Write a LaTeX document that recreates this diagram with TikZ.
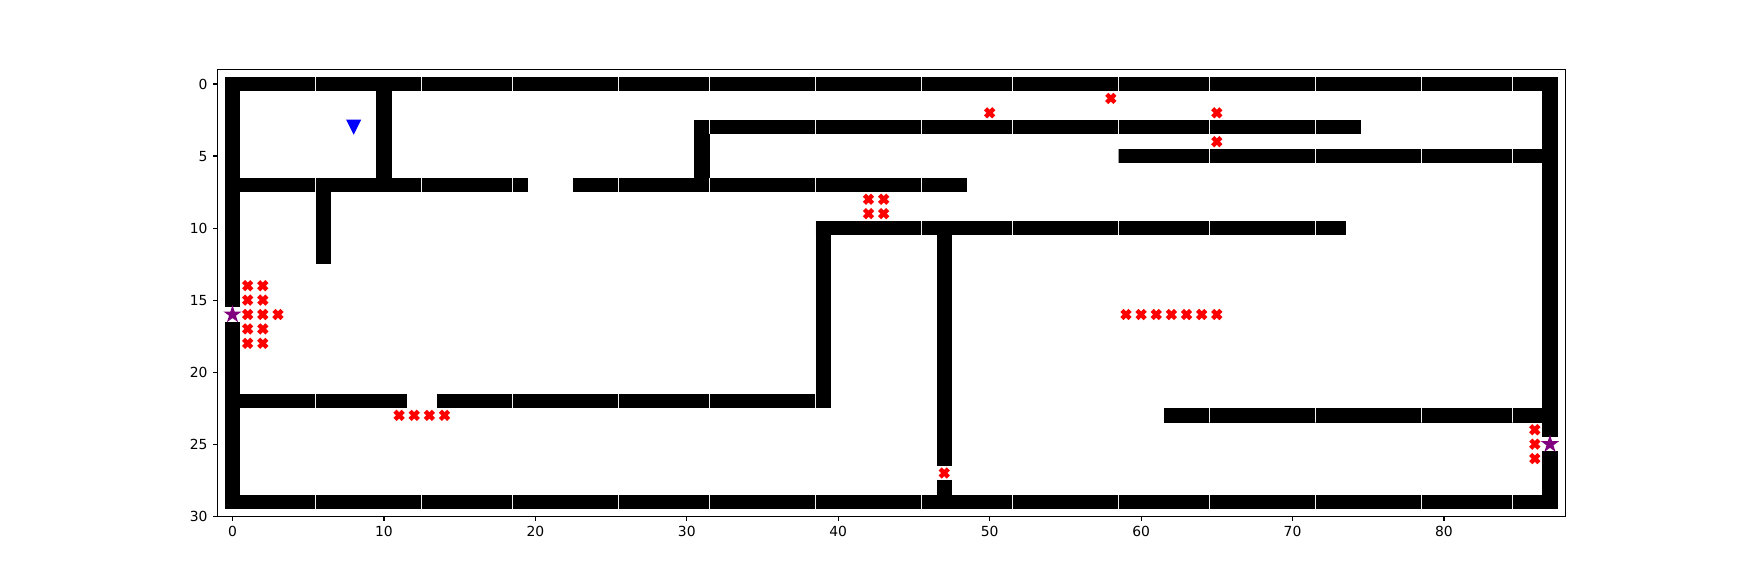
\documentclass[tikz,border=0pt]{standalone}
\usepackage{fontspec}
\setmainfont{DejaVu Sans}
\usetikzlibrary{shapes.geometric}
\definecolor{mplred}{HTML}{FF0000}
\definecolor{mplblue}{HTML}{0000FF}
\definecolor{mplpurple}{HTML}{800080}
% wall segments: x1/y1/x2/y2 in grid cells
\newcommand\hwalllist{0/0/87/0, 0/29/87/29, 0/7/19/7, 23/7/48/7, 31/3/74/3, 59/5/86/5,
  39/10/73/10, 0/22/11/22, 14/22/39/22, 62/23/86/23}
\newcommand\vwalllist{0/0/0/15, 0/17/0/29, 87/0/87/24, 87/26/87/29,
  10/1/10/7, 6/7/6/12, 31/3/31/7, 39/10/39/22, 47/10/47/26, 47/28/47/28}
\begin{document}
\begin{tikzpicture}[x=0.15143cm, y=-0.14406cm,
    wall/.style={fill=black},
    seam/.style={draw=gray!12, line width=0.3pt},
    axisline/.style={line width=0.32pt},
    ticklabel/.style={inner sep=0pt, font=\fontsize{3.95}{4.7}\selectfont},
    goal/.style={star, star points=5, star point ratio=2.618, minimum size=0.19cm, inner sep=0pt, fill=mplpurple},
    obstacle/.pic={\fill[mplred, rotate=45] (-0.058cm,-0.022cm) -- (-0.022cm,-0.022cm) -- (-0.022cm,-0.058cm) -- (0.022cm,-0.058cm) -- (0.022cm,-0.022cm) -- (0.058cm,-0.022cm) -- (0.058cm,0.022cm) -- (0.022cm,0.022cm) -- (0.022cm,0.058cm) -- (-0.022cm,0.058cm) -- (-0.022cm,0.022cm) -- (-0.058cm,0.022cm) -- cycle;},
    agent/.pic={\fill[mplblue] (-0.075cm,0.075cm) -- (0.075cm,0.075cm) -- (0,-0.075cm) -- cycle;}]
	\useasboundingbox[fill=white] (-15.355,-5.831) rectangle (99.484,34.430);
	
	% walls
	\foreach \xa/\ya/\xb/\yb in \hwalllist
		\fill[wall] (\xa-0.5,\ya-0.5) rectangle (\xb+0.5,\yb+0.5);
	\foreach \xa/\ya/\xb/\yb in \vwalllist
		\fill[wall] (\xa-0.5,\ya-0.5) rectangle (\xb+0.5,\yb+0.5);
	
	% light seams across the horizontal walls
	\begin{scope}
		\clip foreach \xa/\ya/\xb/\yb in \hwalllist {(\xa-0.5,\ya-0.5) rectangle (\xb+0.5,\yb+0.5)};
		\foreach \r in {0,3,5,7,10,22,23,29}
			\foreach \s in {5.5,12.5,18.5,25.5,31.5,38.5,45.5,51.5,58.5,64.5,71.5,78.5,84.5}
				\draw[seam] (\s,\r-0.5) -- (\s,\r+0.5);
	\end{scope}
	
	% obstacles
	\foreach \px/\py in {58/1, 50/2, 65/2, 65/4, 42/8, 43/8, 42/9, 43/9,
		1/14, 2/14, 1/15, 2/15, 1/16, 2/16, 3/16, 1/17, 2/17, 1/18, 2/18,
		59/16, 60/16, 61/16, 62/16, 63/16, 64/16, 65/16,
		11/23, 12/23, 13/23, 14/23, 47/27, 86/24, 86/25, 86/26}
		\pic at (\px,\py) {obstacle};
	
	% doors and agent
	\node[goal] (door-west) at (0,16) {};
	\node[goal] (door-east) at (87,25) {};
	\pic at (8,3) {agent};
	
	% axes
	\draw[axisline] (-1,-1) rectangle (88,30);
	\foreach \t in {0,10,...,80}
		\draw[axisline] (\t,30) -- ++(0,-0.045cm) node[ticklabel, anchor=north, yshift=-0.049cm] {\t};
	\foreach \t in {0,5,...,30}
		\draw[axisline] (-1,\t) -- ++(-0.045cm,0) node[ticklabel, anchor=east, xshift=-0.049cm] {\t};
\end{tikzpicture}
\end{document}
